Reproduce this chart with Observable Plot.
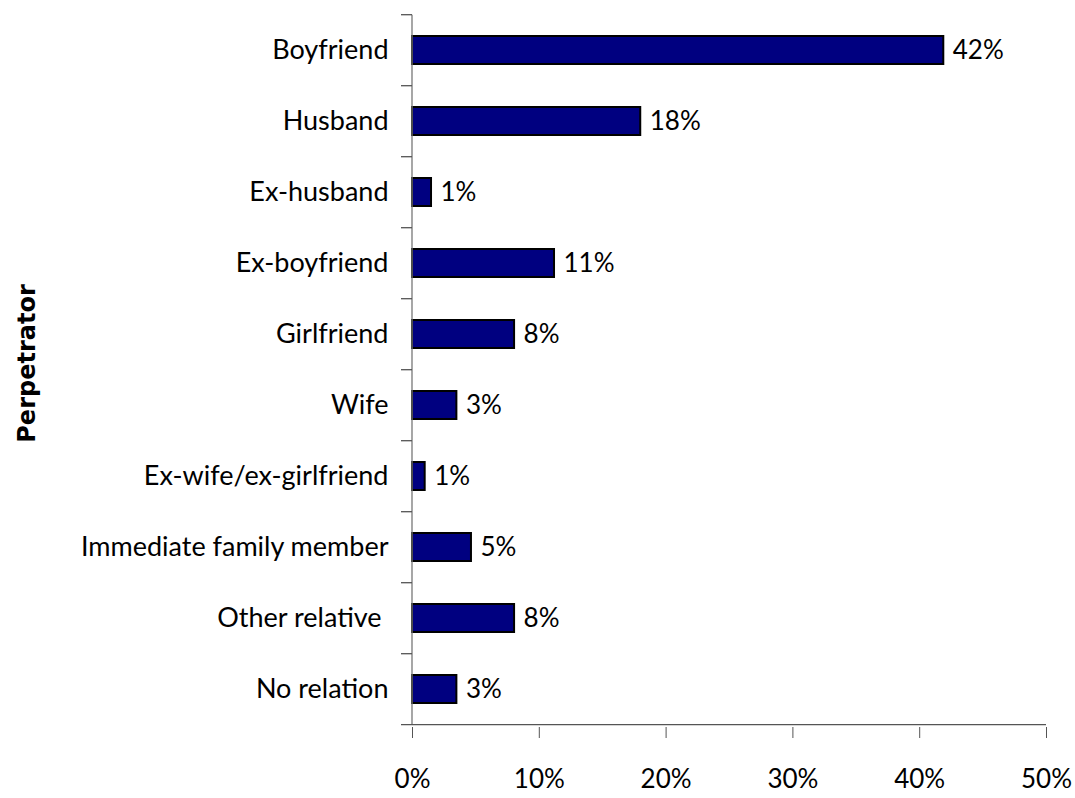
<!DOCTYPE html>
<html>
<head>
<meta charset="utf-8">
<script src="https://cdn.jsdelivr.net/npm/d3@7"></script>
<script src="https://cdn.jsdelivr.net/npm/@observablehq/plot@0.6"></script>
<style>
  html, body { margin: 0; padding: 0; background: #fff; }
  #chart svg { display: block; }
</style>
</head>
<body>
<div id="chart"></div>
<script>
const categories = ["Boyfriend", "Husband", "Ex-husband", "Ex-boyfriend", "Girlfriend", "Wife",
  "Ex-wife/ex-girlfriend", "Immediate family member", "Other relative ", "No relation"];
const values = [41.9, 18.0, 1.5, 11.2, 8.05, 3.5, 1.0, 4.65, 8.05, 3.5];
const valueLabels = ["42%", "18%", "1%", "11%", "8%", "3%", "1%", "5%", "8%", "3%"];
const xTicks = [0, 10, 20, 30, 40, 50];
const axisTitle = "Perpetrator";

const data = categories.map((c, i) => ({ name: c, value: values[i], label: valueLabels[i] }));

const FONT = "Lato, 'Open Sans', sans-serif";
const PAD_IN = 0.6, PAD_OUT = 0.3;

// custom mark: axis lines, with category ticks between the bars
function axisLines(index, scales) {
  const y = scales.y, x = scales.x;
  const step = y(categories[1]) - y(categories[0]);
  const x0 = x(0), x1 = x(xTicks[xTicks.length - 1]);
  const g = d3.create("svg:g").attr("stroke", "#555").attr("stroke-width", 1.3).attr("fill", "none");
  const top = y(categories[0]) - PAD_OUT * step;
  const bottom = y(categories[categories.length - 1]) + (1 - PAD_OUT) * step;
  g.append("line").attr("x1", x0).attr("x2", x0).attr("y1", top).attr("y2", bottom).attr("stroke", "#777");
  g.append("line").attr("x1", x0 - 11).attr("x2", x1).attr("y1", bottom).attr("y2", bottom);
  const bounds = categories.map(c => y(c) - PAD_OUT * step);
  bounds.forEach(b => g.append("line").attr("x1", x0 - 11).attr("x2", x0).attr("y1", b).attr("y2", b));
  return g.node();
}

const chart = Plot.plot({
  width: 1075,
  height: 798,
  marginTop: 13,
  marginBottom: 71,
  marginLeft: 412,
  marginRight: 29,
  style: { fontFamily: FONT, fontSize: "23px", color: "#000", background: "#fff" },
  x: { domain: [0, 50], ticks: xTicks, label: null },
  y: { domain: categories, paddingInner: PAD_IN, paddingOuter: PAD_OUT, label: null },
  marks: [
    Plot.barX(data, { x: "value", y: "name", fill: "#000080", stroke: "#000", strokeWidth: 2 }),
    Plot.text(data, { x: "value", y: "name", text: "label", textAnchor: "start", dx: 9, fill: "#000", fontSize: 26 }),
    Plot.axisY({ tickSize: 0, tickPadding: 24, fontSize: 27, fill: "#000" }),
    Plot.axisX({ ticks: xTicks, tickSize: 11, tickPadding: 31, tickFormat: d => d + "%", fontSize: 26, fill: "#000", stroke: "#555", label: null }),
    axisLines,
    Plot.text([axisTitle], { frameAnchor: "left", dx: -385, dy: -7, rotate: -90, textAnchor: "middle", fontWeight: "bold", fontSize: 24, fontFamily: "'DejaVu Sans', sans-serif", fill: "#000" })
  ]
});
document.getElementById("chart").appendChild(chart);
</script>
</body>
</html>
